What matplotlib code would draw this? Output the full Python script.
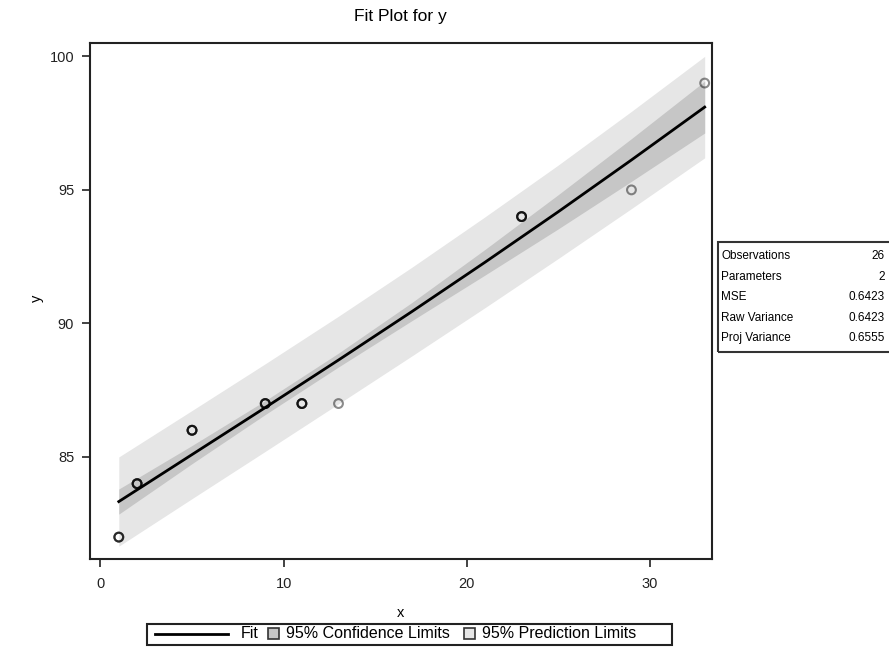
import matplotlib
matplotlib.use("Agg")
import matplotlib.pyplot as plt
from matplotlib.lines import Line2D
from matplotlib.patches import Rectangle

plt.rcParams["font.family"] = ["Liberation Sans", "DejaVu Sans"]

# observed points (x, y, number of observations at that spot)
obs_x = [1, 2, 5, 9, 11, 13, 23, 29, 33]
obs_y = [82, 84, 86, 87, 87, 87, 94, 95, 99]
obs_n = [3, 4, 4, 4, 4, 1, 4, 1, 1]

# fitted curve and band half-widths
grid_x = [1, 5, 9, 13, 17, 21, 25, 29, 33]
fit_y = [83.33, 85.09, 86.85, 88.63, 90.44, 92.29, 94.18, 96.12, 98.1]
conf_hw = [0.47, 0.34, 0.26, 0.26, 0.34, 0.48, 0.64, 0.8, 0.97]
pred_hw = [1.67, 1.65, 1.64, 1.64, 1.66, 1.7, 1.75, 1.82, 1.9]

stat_names = ["Observations", "Parameters", "MSE", "Raw Variance", "Proj Variance"]
stat_values = ["26", "2", "0.6423", "0.6423", "0.6555"]

legend_labels = ["Fit", "95% Confidence Limits", "95% Prediction Limits"]

conf_col = "#c6c6c6"
pred_col = "#e6e6e6"

W, H = 889, 671
fig = plt.figure(figsize=(W / 100, H / 100), dpi=100)
ax = fig.add_axes([89.5 / W, 1 - 559 / H, (712 - 89.5) / W, (559 - 43) / H])

pred_lo = [f - h for f, h in zip(fit_y, pred_hw)]
pred_hi = [f + h for f, h in zip(fit_y, pred_hw)]
conf_lo = [f - h for f, h in zip(fit_y, conf_hw)]
conf_hi = [f + h for f, h in zip(fit_y, conf_hw)]

ax.fill_between(grid_x, pred_lo, pred_hi, color=pred_col, lw=0)
ax.fill_between(grid_x, conf_lo, conf_hi, color=conf_col, lw=0)
ax.plot(grid_x, fit_y, color="black", lw=2)

# one marker per observation, overlapping ones look darker
for x, y, n in zip(obs_x, obs_y, obs_n):
    ax.scatter([x] * n, [y] * n, s=40, facecolors="none",
               edgecolors="black", linewidths=1.5, alpha=0.45, zorder=3)

ax.set_xlim(-0.6, 33.4)
ax.set_ylim(81.18, 100.5)
ax.set_xticks([0, 10, 20, 30])
ax.set_yticks([85, 90, 95, 100])
ax.tick_params(direction="out", length=6, width=1.2, labelsize=10.5,
               colors="#222222")
ax.tick_params(axis="x", pad=7)
ax.tick_params(axis="y", pad=5)
for s in ax.spines.values():
    s.set_linewidth(1.5)
    s.set_color("#222222")

ax.set_xlabel("x", fontsize=10.5)
ax.set_ylabel("y", fontsize=10.5)
ax.xaxis.set_label_coords(0.5, -0.105)
ax.yaxis.set_label_coords(-0.084, 0.506)
ax.xaxis.label.set_va("center")
ax.yaxis.label.set_va("center")
fig.text(400 / W, 1 - 17 / H, "Fit Plot for y", fontsize=12.5,
         ha="center", va="center")

# statistics box on the right
fig.patches.append(Rectangle((718 / W, 1 - 352 / H), 200 / W, 110 / H,
                             transform=fig.transFigure, fill=False,
                             edgecolor="#333333", lw=1.5))
for i, (name, val) in enumerate(zip(stat_names, stat_values)):
    yy = 1 - (256 + i * 20.5) / H
    fig.text(721 / W, yy, name, fontsize=8.5, va="center", ha="left")
    fig.text(885 / W, yy, val, fontsize=8.5, va="center", ha="right")

# legend drawn by hand so spacing matches
ly = 1 - 634 / H
fig.patches.append(Rectangle((147 / W, 1 - 645 / H), 525 / W, 21 / H,
                             transform=fig.transFigure, fill=False,
                             edgecolor="#222222", lw=1.5))
fig.lines.append(Line2D([155 / W, 228 / W], [ly, ly], color="black", lw=2,
                        transform=fig.transFigure))
fig.text(241 / W, ly, legend_labels[0], fontsize=11.5, va="center")
for px, col in [(268, conf_col), (464, pred_col)]:
    fig.patches.append(Rectangle((px / W, 1 - 639 / H), 11 / W, 11 / H,
                                 transform=fig.transFigure, facecolor=col,
                                 edgecolor="#333333", lw=1.2))
fig.text(286 / W, ly, legend_labels[1], fontsize=11.5, va="center")
fig.text(482 / W, ly, legend_labels[2], fontsize=11.5, va="center")

fig.savefig("out.png", dpi=100)
